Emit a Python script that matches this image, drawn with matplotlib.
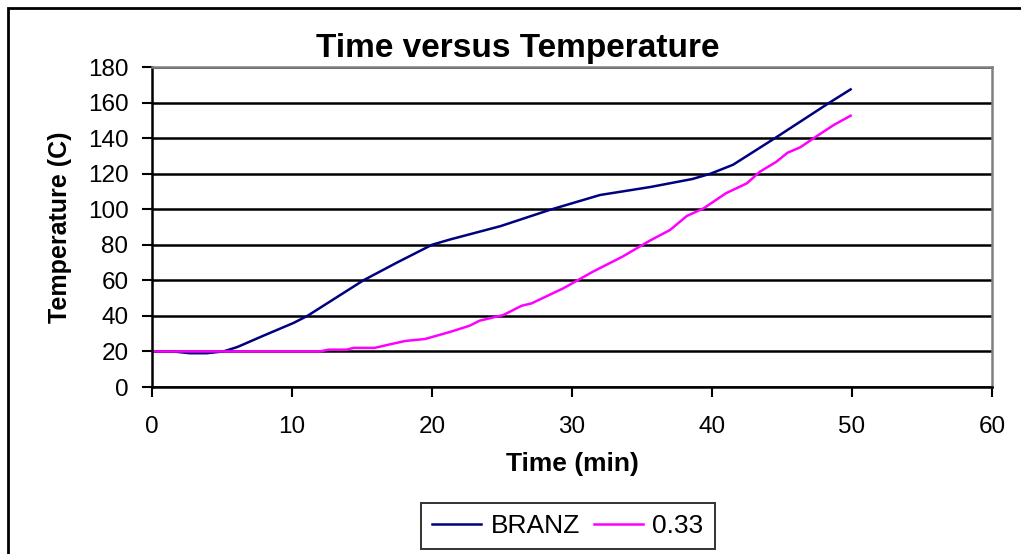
import matplotlib.pyplot as plt
from matplotlib.patches import Rectangle

plt.rcParams['font.family'] = ['Liberation Sans', 'DejaVu Sans']

# BRANZ prediction: time (min) and temperature (C)
branz_time = [0, 1.5, 2.7, 3.9, 5.1, 6.1, 8.0, 10.1, 11.1, 12.9, 15.1, 17.5, 20.0,
              21.3, 24.9, 28.4, 32.0, 35.6, 38.6, 39.9, 41.5, 44.5, 48.4, 49.9]
branz_temp = [20, 20, 19, 19, 20, 22.5, 29, 36, 40, 49, 60, 70, 80,
              83, 90.5, 99.6, 108, 112.5, 117, 120, 125, 140, 160, 167.4]

# Measured series (0.33)
meas_time = [0, 4, 8, 12.0, 12.6, 13.9, 14.4, 15.9, 17.0, 18.1, 19.5, 21.3, 22.7,
             23.4, 25.1, 26.4, 27.1, 29.4, 31.5, 33.6, 35.6, 37.0, 38.2, 39.4,
             41.0, 42.5, 43.4, 44.6, 45.4, 46.3, 47.5, 48.7, 49.9]
meas_temp = [20, 20, 20, 20, 21, 21, 22, 22, 24, 25.9, 27, 31, 34.5,
             37.3, 40.5, 45.7, 47, 55.6, 64.9, 73.3, 82.5, 88.3, 96.2, 100.5,
             109, 114.6, 121, 126.7, 131.8, 134.8, 141.2, 147.4, 152.6]

fig = plt.figure(figsize=(10.21, 5.54), dpi=100)
ax = fig.add_axes([152/1021, 1 - 387/554, 840/1021, 320/554])

ax.plot(branz_time, branz_temp, color='#000080', lw=1.8, label='BRANZ')
ax.plot(meas_time, meas_temp, color='#FF00FF', lw=1.8, label='0.33')

ax.set_xlim(0, 60)
ax.set_ylim(0, 180)
ax.set_xticks(range(0, 61, 10))
ax.set_yticks(range(0, 181, 20))
ax.tick_params(direction='out', length=7, width=1.5, labelsize=17.5)
ax.tick_params(axis='x', pad=14)
ax.tick_params(axis='y', pad=10)
ax.yaxis.grid(True, color='black', lw=1.8)
ax.set_axisbelow(True)

for side in ['left', 'bottom']:
    ax.spines[side].set_linewidth(1.8)
    ax.spines[side].set_color('black')
for side in ['top', 'right']:
    ax.spines[side].set_linewidth(1.8)
    ax.spines[side].set_color('#808080')

ax.set_title('Time versus Temperature', fontsize=24, fontweight='bold',
             x=(518 - 152) / 840, pad=7)
ax.set_xlabel('Time (min)', fontsize=19, fontweight='bold', labelpad=10)
ax.set_ylabel('Temperature (C)', fontsize=18, fontweight='bold', labelpad=11)

leg = fig.legend(loc='center', bbox_to_anchor=(568/1021, 1 - 526/554), ncol=2,
                 fontsize=19, frameon=True, fancybox=False, handlelength=1.85,
                 columnspacing=0.55, handletextpad=0.35, borderpad=0.42)
leg.get_frame().set_edgecolor('black')
leg.get_frame().set_linewidth(1.4)

# chart border, running off the right and bottom edges
fig.patches.append(Rectangle((8/1021, -0.1), 1.2, 1 - 8/554 + 0.1,
                             transform=fig.transFigure, fill=False,
                             edgecolor='black', lw=2))

fig.savefig('out.png', dpi=100)
